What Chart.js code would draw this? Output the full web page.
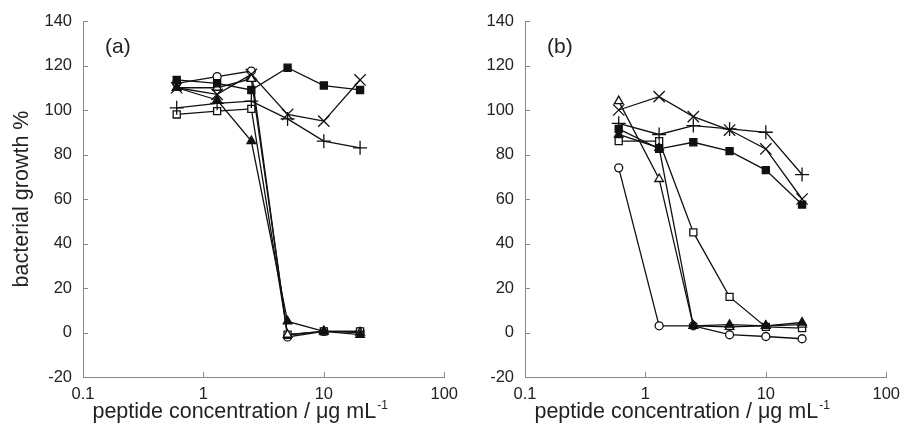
<!DOCTYPE html>
<html>
<head>
<meta charset="utf-8">
<script src="https://cdn.jsdelivr.net/npm/chart.js@4.4.0/dist/chart.umd.min.js"></script>
<style>
body { margin: 0; background: #fff; width: 901px; height: 429px; overflow: hidden; position: relative; }
.panel { position: absolute; top: 0; width: 466px; height: 429px; }
</style>
</head>
<body>
<div class="panel" style="left:0"><canvas id="chartA"></canvas></div>
<div class="panel" style="left:442px"><canvas id="chartB"></canvas></div>
<script>
// concentrations (x) and axis ticks
var conc = [0.6, 1.3, 2.5, 5, 10, 20];
var xTicks = [0.1, 1, 10, 100];

// panel (a) - bacterial growth %
var aFilledSquare = [113.5, 112, 109, 119, 111, 109];
var aCross = [110, 107, 116, 98, 95, 113.5];
var aPlus = [101, 103, 104, 96, 86, 83];
var aOpenCircle = [112, 115, 117.5, -2, 0.5, 0.5];
var aOpenSquare = [98, 99.5, 100.5, -1, 0.5, 0.5];
var aFilledTriangle = [110, 104.5, 86, 5, 0.5, -1];
var aOpenTriangle = [110, 110, 114, -1, 0.5, 0];

// panel (b) - bacterial growth %
var bFilledSquare = [91.5, 82.5, 85.5, 81.5, 73, 57.5];
var bCross = [100, 106, 97, 91, 82.5, 60];
var bPlus = [94, 89, 93, 91.5, 90, 71];
var bOpenCircle = [74, 3, 3, -1, -1.8, -2.8];
var bOpenSquare = [86, 86, 45, 16, 2.5, 2];
var bFilledTriangle = [89, 83, 3, 3.5, 3, 4.5];
var bOpenTriangle = [104, 69, 3, 2.5, 3, 3.5];

var fontFam = '"Liberation Sans", Arial, sans-serif';

// one dataset: values + marker kind
function series(values, kind) {
    var styles = {
        filledSquare: { pointStyle: 'rect', radius: 5, fill: '#111' },
        openSquare: { pointStyle: 'rect', radius: 5, fill: '#fff' },
        openCircle: { pointStyle: 'circle', radius: 4, fill: '#fff' },
        filledTriangle: { pointStyle: 'triangle', radius: 5, fill: '#111' },
        openTriangle: { pointStyle: 'triangle', radius: 5, fill: '#fff' },
        cross: { pointStyle: 'crossRot', radius: 8, fill: '#111' },
        plus: { pointStyle: 'cross', radius: 7, fill: '#111' }
    };
    var s = styles[kind];
    var pts = [];
    for (var i = 0; i < conc.length; i++) {
        pts.push({ x: conc[i], y: values[i] });
    }
    return {
        data: pts,
        borderColor: '#111',
        borderWidth: 1.3,
        pointStyle: s.pointStyle,
        pointRadius: s.radius,
        pointBackgroundColor: s.fill,
        pointBorderColor: '#111',
        pointBorderWidth: 1.3,
        tension: 0
    };
}

// inward ticks, panel letter and x title with superscript
var extras = {
    id: 'extras',
    beforeDatasetsDraw: function(chart) {
        var ctx = chart.ctx, xs = chart.scales.x, ys = chart.scales.y, area = chart.chartArea;
        ctx.save();
        ctx.strokeStyle = '#888';
        ctx.lineWidth = 1;
        ctx.beginPath();
        ys.ticks.forEach(function(t) {
            var y = Math.round(ys.getPixelForValue(t.value)) + 0.5;
            ctx.moveTo(area.left, y);
            ctx.lineTo(area.left + 5, y);
        });
        xs.ticks.forEach(function(t) {
            var x = Math.round(xs.getPixelForValue(t.value)) + 0.5;
            ctx.moveTo(x, area.bottom);
            ctx.lineTo(x, area.bottom - 5);
        });
        ctx.stroke();
        ctx.restore();
    },
    afterDraw: function(chart) {
        var ctx = chart.ctx, area = chart.chartArea;
        var opts = chart.options.plugins.extras;
        ctx.save();
        ctx.fillStyle = '#222';
        ctx.textBaseline = 'alphabetic';
        ctx.textAlign = 'left';
        ctx.font = '21px ' + fontFam;
        ctx.fillText(opts.label, area.left + 22, area.top + 32);

        var main = 'peptide concentration / \u03bcg mL';
        var sup = '-1';
        ctx.font = '21.5px ' + fontFam;
        var w1 = ctx.measureText(main).width;
        ctx.font = '12px ' + fontFam;
        var w2 = ctx.measureText(sup).width;
        var x0 = (area.left + area.right) / 2 - 24 - (w1 + w2) / 2;
        ctx.font = '21.5px ' + fontFam;
        ctx.fillText(main, x0, 418);
        ctx.font = '12px ' + fontFam;
        ctx.fillText(sup, x0 + w1 + 1, 409);
        ctx.restore();
    }
};

function makeChart(id, sets, label, showYTitle) {
    return new Chart(document.getElementById(id), {
        type: 'line',
        data: { datasets: sets },
        plugins: [extras],
        options: {
            responsive: false,
            animation: false,
            devicePixelRatio: 1,
            layout: { padding: { left: 0, right: 10, top: 21, bottom: 0 } },
            plugins: {
                legend: { display: false },
                tooltip: { enabled: false },
                extras: { label: label }
            },
            scales: {
                x: {
                    type: 'logarithmic',
                    min: 0.1,
                    max: 100,
                    grid: { display: false, drawTicks: false },
                    border: { color: '#888', width: 1 },
                    afterBuildTicks: function(scale) {
                        scale.ticks = xTicks.map(function(v) { return { value: v }; });
                    },
                    afterFit: function(scale) { scale.height = 52; },
                    ticks: {
                        autoSkip: false,
                        maxRotation: 0,
                        padding: 8,
                        color: '#222',
                        font: { family: fontFam, size: 16.5 },
                        callback: function(v) { return String(v); }
                    }
                },
                y: {
                    min: -20,
                    max: 140,
                    grid: { display: false, drawTicks: false },
                    border: { color: '#888', width: 1 },
                    afterFit: function(scale) { scale.width = 83; },
                    title: {
                        display: showYTitle,
                        text: 'bacterial growth %',
                        color: '#222',
                        font: { family: fontFam, size: 21.5 },
                        padding: { top: 9, bottom: 0 }
                    },
                    ticks: {
                        stepSize: 20,
                        padding: 11,
                        color: '#222',
                        font: { family: fontFam, size: 16.5 }
                    }
                }
            }
        }
    });
}

var canvasA = document.getElementById('chartA');
var canvasB = document.getElementById('chartB');
canvasA.width = 466; canvasA.height = 429;
canvasB.width = 466; canvasB.height = 429;

makeChart('chartA', [
    series(aCross, 'cross'),
    series(aPlus, 'plus'),
    series(aFilledSquare, 'filledSquare'),
    series(aFilledTriangle, 'filledTriangle'),
    series(aOpenTriangle, 'openTriangle'),
    series(aOpenSquare, 'openSquare'),
    series(aOpenCircle, 'openCircle')
], '(a)', true);

makeChart('chartB', [
    series(bCross, 'cross'),
    series(bPlus, 'plus'),
    series(bFilledSquare, 'filledSquare'),
    series(bFilledTriangle, 'filledTriangle'),
    series(bOpenTriangle, 'openTriangle'),
    series(bOpenSquare, 'openSquare'),
    series(bOpenCircle, 'openCircle')
], '(b)', false);
</script>
</body>
</html>
